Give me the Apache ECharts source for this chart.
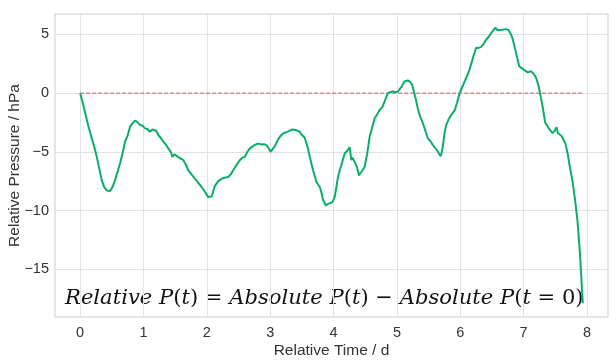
<!DOCTYPE html>
<html>
<head>
<meta charset="utf-8">
<script src="https://cdn.jsdelivr.net/npm/echarts@6/dist/echarts.min.js"></script>
<style>html,body{margin:0;padding:0;background:#fff}#c{width:616px;height:360px}</style>
</head>
<body>
<div id="c"></div>
<script>
const times = [0,0.04,0.079,0.13,0.184,0.22,0.263,0.30,0.342,0.38,0.42,0.473,0.51,0.55,0.59,0.63,0.67,0.709,0.75,0.788,0.83,0.867,0.9,0.945,0.98,1.024,1.06,1.103,1.14,1.171,1.2,1.234,1.27,1.313,1.35,1.392,1.43,1.455,1.49,1.513,1.55,1.576,1.628,1.67,1.707,1.76,1.812,1.86,1.917,1.97,2.022,2.05,2.075,2.127,2.18,2.233,2.28,2.337,2.38,2.416,2.47,2.521,2.56,2.6,2.64,2.679,2.73,2.784,2.82,2.863,2.9,2.942,2.975,3.005,3.04,3.073,3.11,3.152,3.19,3.23,3.27,3.31,3.35,3.39,3.43,3.467,3.49,3.52,3.545,3.573,3.6,3.625,3.65,3.677,3.7,3.73,3.755,3.782,3.81,3.835,3.855,3.877,3.913,3.94,3.98,4.018,4.045,4.07,4.097,4.123,4.15,4.176,4.21,4.24,4.255,4.28,4.3,4.333,4.37,4.4,4.44,4.49,4.53,4.57,4.61,4.649,4.69,4.727,4.77,4.806,4.835,4.859,4.9,4.937,4.98,5.016,5.04,5.08,5.12,5.17,5.21,5.24,5.27,5.3,5.33,5.357,5.39,5.42,5.455,5.489,5.53,5.568,5.61,5.646,5.69,5.71,5.735,5.755,5.778,5.82,5.857,5.91,5.95,5.99,6.03,6.07,6.11,6.146,6.2,6.25,6.29,6.33,6.37,6.41,6.45,6.49,6.555,6.59,6.62,6.66,6.697,6.73,6.765,6.8,6.83,6.88,6.93,6.997,7.03,7.064,7.117,7.15,7.186,7.21,7.238,7.27,7.3,7.34,7.365,7.41,7.458,7.49,7.52,7.54,7.564,7.6,7.627,7.66,7.695,7.73,7.77,7.81,7.85,7.89,7.92,7.935];
const pressures = [0,-0.8,-1.7,-2.8,-3.86,-4.5,-5.43,-6.4,-7.43,-8.0,-8.29,-8.34,-8.0,-7.43,-6.7,-6.0,-5.1,-4.14,-3.6,-2.86,-2.55,-2.34,-2.45,-2.71,-2.75,-3.0,-3.05,-3.29,-3.1,-2.94,-3.2,-3.57,-3.8,-4.14,-4.35,-4.71,-5.0,-5.43,-5.2,-5.14,-5.45,-5.57,-5.71,-6.1,-6.57,-6.95,-7.29,-7.6,-8.0,-8.4,-8.86,-8.9,-8.8,-7.9,-7.5,-7.29,-7.2,-7.14,-6.9,-6.57,-6.1,-5.71,-5.5,-5.43,-5.0,-4.71,-4.5,-4.34,-4.3,-4.37,-4.35,-4.43,-4.7,-5.0,-4.75,-4.52,-4.1,-3.71,-3.5,-3.37,-3.3,-3.2,-3.1,-3.14,-3.2,-3.29,-3.5,-3.57,-3.8,-4.29,-4.8,-5.43,-6.0,-6.57,-7.0,-7.57,-7.7,-8.0,-8.5,-9.1,-9.3,-9.57,-9.43,-9.43,-9.3,-8.86,-8.0,-7.14,-6.57,-6.14,-5.6,-5.14,-4.95,-4.9,-4.6,-5.71,-5.5,-5.86,-6.3,-7.0,-6.7,-6.29,-5.2,-3.71,-2.9,-2.14,-1.8,-1.43,-1.2,-0.71,-0.3,0.0,0.1,0.14,0.1,0.14,0.0,0.6,1.0,1.08,0.95,0.71,0.1,-0.57,-1.3,-1.86,-2.3,-2.71,-3.3,-3.86,-4.1,-4.43,-4.7,-5.0,-5.37,-5.0,-4.14,-3.3,-2.71,-2.2,-1.86,-1.5,-0.8,0.0,0.5,1.0,1.5,2.0,3.0,3.86,3.85,3.94,4.2,4.57,4.8,5.14,5.57,5.35,5.29,5.4,5.43,5.45,5.37,5.0,4.57,3.43,2.29,2.0,1.9,1.77,1.86,1.7,1.43,1.1,0.57,-0.3,-1.14,-2.5,-2.71,-3.1,-3.4,-3.2,-2.91,-3.4,-3.57,-3.65,-3.71,-4.3,-5.14,-6.29,-7.43,-9.0,-10.86,-13.71,-16.57,-17.9];
const xTicks = [0,1,2,3,4,5,6,7,8];
const yTicks = [-15,-10,-5,0,5];
const baseline = [[0,0],[7.935,0]];

const mainData = times.map((t,i)=>[t,pressures[i]]);
const fmt = v => String(v).replace('-', '\u2212');
const chart = echarts.init(document.getElementById('c'));
const labelFont = 'Liberation Sans, Arial, sans-serif';
chart.setOption({
  animation: false,
  grid: {left:55, top:14, right:8, bottom:43, outerBoundsMode:'none', containLabel:false, show:true, borderColor:'#cccccc', borderWidth:1, backgroundColor:'transparent'},
  xAxis: {
    type:'value', min:-0.397, max:8.332,
    name:'Relative Time / d', nameLocation:'middle', nameGap:26, nameMoveOverlap:false,
    nameTextStyle:{fontFamily:labelFont, fontSize:15.5, color:'#333'},
    axisLine:{show:false}, axisTick:{show:false, customValues:xTicks},
    axisLabel:{customValues:xTicks, formatter:fmt, fontFamily:labelFont, fontSize:14.5, color:'#333', margin:8},
    splitLine:{show:true, lineStyle:{color:'#e2e2e2', width:1}}
  },
  yAxis: {
    type:'value', min:-19.07, max:6.74,
    name:'Relative Pressure / hPa', nameLocation:'middle', nameGap:32, nameRotate:90, nameMoveOverlap:false,
    nameTextStyle:{fontFamily:labelFont, fontSize:15.5, color:'#333'},
    axisLine:{show:false}, axisTick:{show:false, customValues:yTicks},
    axisLabel:{customValues:yTicks, formatter:fmt, fontFamily:labelFont, fontSize:14.5, color:'#333', margin:6},
    splitLine:{show:true, lineStyle:{color:'#e2e2e2', width:1}}
  },
  series: [
    {type:'line', data:baseline, showSymbol:false, silent:true, z:2, color:'#cd5c5c',
     lineStyle:{color:'#cd5c5c', width:1, type:[4,2], opacity:1}},
    {type:'line', data:mainData, showSymbol:false, z:3, color:'#0aae68',
     lineStyle:{color:'#0aae68', width:2}}
  ],
  graphic: [{
    type:'text', left:65, top:288,
    style:{
      text:'{i|Relative P}{n|(}{i|t}{n|) = }{i|Absolute P}{n|(}{i|t}{n|) \u2212 }{i|Absolute P}{n|(}{i|t}{n| = 0)}',
      rich:{
        i:{fontFamily:'DejaVu Serif', fontStyle:'italic', fontSize:21.1, fill:'#111'},
        n:{fontFamily:'DejaVu Serif', fontStyle:'normal', fontSize:21.1, fill:'#111'}
      }
    }
  }]
});
</script>
</body>
</html>
